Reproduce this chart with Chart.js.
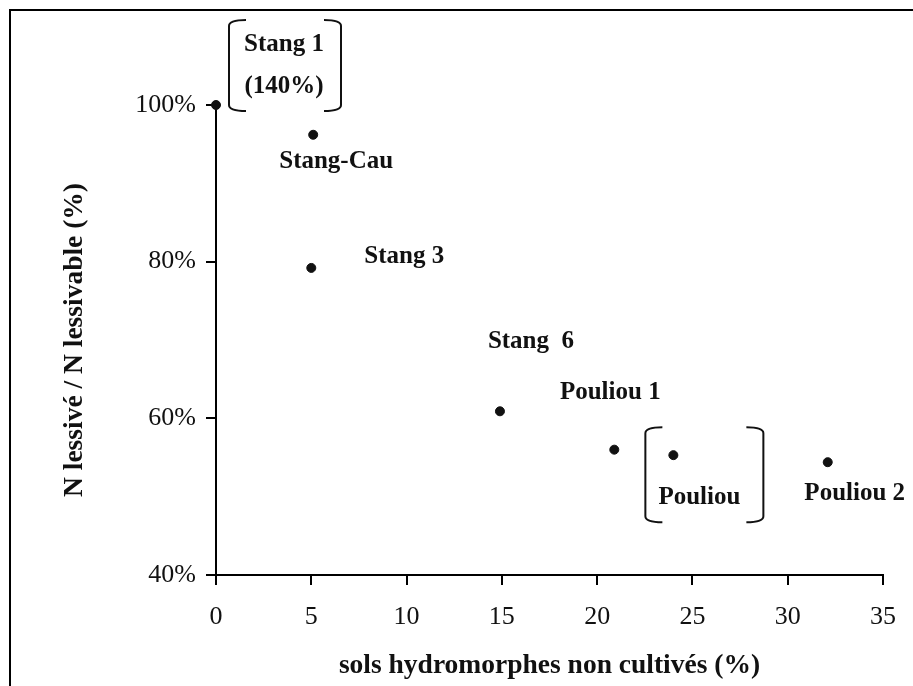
<!DOCTYPE html>
<html>
<head>
<meta charset="utf-8">
<script src="https://cdn.jsdelivr.net/npm/chart.js@4/dist/chart.umd.min.js"></script>
<style>
  html, body { margin: 0; padding: 0; background: #fff; }
  #wrap { position: relative; width: 913px; height: 686px; }
  #frame { position: absolute; left: 9px; top: 9px; right: 0; bottom: 0;
           border-top: 2px solid #000; border-left: 2px solid #000; pointer-events: none; }
  canvas { position: absolute; left: 0; top: 0; }
</style>
</head>
<body>
<div id="wrap">
  <canvas id="chart" width="913" height="686"></canvas>
  <div id="frame"></div>
</div>
<script>
// Données
const siteLabels = [['Stang 1', '(140%)'], ['Stang-Cau'], ['Stang 3'], ['Stang  6'], ['Pouliou 1'], ['Pouliou'], ['Pouliou 2']];
const soilsPct = [0, 5.1, 5.0, 14.9, 20.9, 24.0, 32.1];     // sols hydromorphes non cultivés (%)
const leachedPct = [100, 96.2, 79.2, 60.9, 56.0, 55.3, 54.4]; // N lessivé / N lessivable (%)
const xTicks = [0, 5, 10, 15, 20, 25, 30, 35];
const yTicks = [40, 60, 80, 100];

// placement des étiquettes (décalage en px par rapport au point)
const labelOffsets = [[68, -60], [23, 27], [93, -11], [31, -70], [-4, -57], [26, 42], [27, 31]];
// crochets autour de certaines étiquettes : [index, gauche, droite, haut, bas] en px par rapport au point
const brackets = [[0, 13, 125, -85, 6], [5, -28, 90, -28, 67]];

const FONT = '"Liberation Serif", "Times New Roman", serif';
const INK = '#111';

const labelPlugin = {
    id: 'siteLabels',
    afterDatasetsDraw(chart) {
        const ctx = chart.ctx;
        const pts = chart.getDatasetMeta(0).data;
        ctx.save();
        ctx.fillStyle = INK;
        ctx.font = 'bold 25px ' + FONT;
        ctx.textAlign = 'center';
        ctx.textBaseline = 'middle';
        siteLabels.forEach((lines, i) => {
            const p = pts[i];
            const [dx, dy] = labelOffsets[i];
            lines.forEach((t, k) => ctx.fillText(t, p.x + dx, p.y + dy + k * 42));
        });
        ctx.strokeStyle = INK;
        ctx.lineWidth = 2;
        brackets.forEach(([i, l, r, t, b]) => {
            const p = pts[i];
            const x1 = p.x + l, x2 = p.x + r, y1 = p.y + t, y2 = p.y + b;
            const s = 17;
            ctx.beginPath();
            ctx.moveTo(x1 + s, y1); ctx.quadraticCurveTo(x1, y1, x1, y1 + 6);
            ctx.lineTo(x1, y2 - 6); ctx.quadraticCurveTo(x1, y2, x1 + s, y2);
            ctx.moveTo(x2 - s, y1); ctx.quadraticCurveTo(x2, y1, x2, y1 + 6);
            ctx.lineTo(x2, y2 - 6); ctx.quadraticCurveTo(x2, y2, x2 - s, y2);
            ctx.stroke();
        });
        ctx.restore();
    }
};

new Chart(document.getElementById('chart'), {
    type: 'scatter',
    data: {
        datasets: [{
            data: soilsPct.map((x, i) => ({ x, y: leachedPct[i] })),
            backgroundColor: INK,
            borderColor: INK,
            pointRadius: 4.5,
            clip: false
        }]
    },
    options: {
        responsive: false,
        animation: false,
        layout: { padding: { top: 105, right: 30, bottom: 0, left: 0 } },
        plugins: { legend: { display: false }, tooltip: { enabled: false } },
        scales: {
            x: {
                type: 'linear', min: 0, max: 35,
                afterBuildTicks: s => { s.ticks = xTicks.map(v => ({ value: v })); },
                afterFit: s => { s.height = 111; },
                ticks: { color: INK, font: { family: FONT, size: 26 }, padding: 17, maxRotation: 0 },
                grid: { drawOnChartArea: false, tickLength: 10, color: '#000', lineWidth: 2 },
                border: { color: '#000', width: 2 },
                title: {
                    display: true, text: 'sols hydromorphes non cultivés (%)', color: INK,
                    font: { family: FONT, size: 27.5, weight: 'bold' }, padding: { top: 0, bottom: 4 }
                }
            },
            y: {
                min: 40, max: 100,
                afterBuildTicks: s => { s.ticks = yTicks.map(v => ({ value: v })); },
                afterFit: s => { s.width = 216; },
                ticks: { color: INK, font: { family: FONT, size: 26 }, padding: 10, callback: v => v + '%' },
                grid: { drawOnChartArea: false, tickLength: 10, color: '#000', lineWidth: 2 },
                border: { color: '#000', width: 2 },
                title: {
                    display: true, text: 'N lessivé / N lessivable (%)', color: INK,
                    font: { family: FONT, size: 27.5, weight: 'bold' }, padding: { top: 58, bottom: 0 }
                }
            }
        }
    },
    plugins: [labelPlugin]
});
</script>
</body>
</html>
